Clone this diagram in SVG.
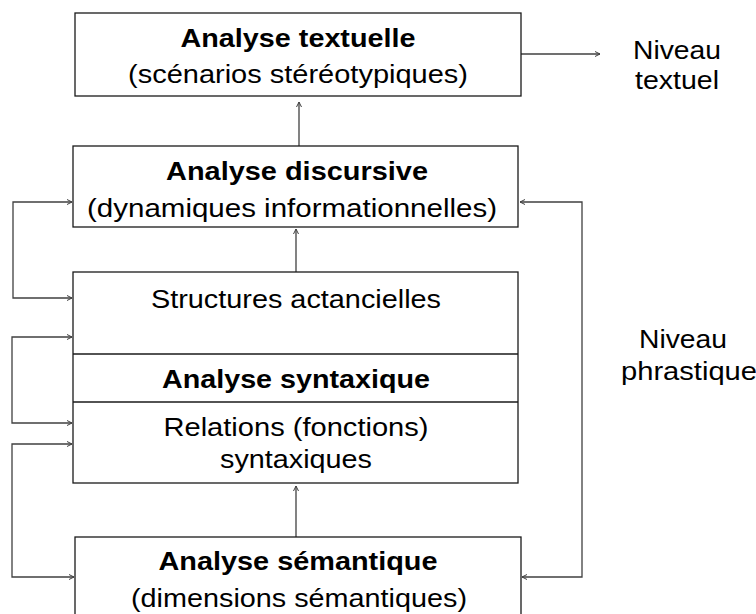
<svg xmlns="http://www.w3.org/2000/svg" width="756" height="614" viewBox="0 0 756 614">
<style>
.box{fill:#fff;stroke:#1a1a1a;stroke-width:1.3}
.div{stroke:#1a1a1a;stroke-width:1.3}
.t{font-family:"Liberation Sans",Arial,sans-serif;font-size:25px;fill:#000;text-anchor:middle}
.b{font-weight:bold}
.c{fill:none;stroke:#404040;stroke-width:1.3}
</style>
<defs>
<marker id="ah" markerWidth="8" markerHeight="8" refX="6" refY="3" orient="auto-start-reverse" markerUnits="userSpaceOnUse">
<path d="M1,0.5 L6,3 L1,5.5" fill="none" stroke="#404040" stroke-width="1"/>
</marker>
</defs>
<rect width="756" height="614" fill="#fff"/>
<g id="connectors">
<path class="c" d="M521,54 H600" marker-end="url(#ah)"/>
<path class="c" d="M299,146 V102" marker-end="url(#ah)"/>
<path class="c" d="M296,272 V229" marker-end="url(#ah)"/>
<path class="c" d="M296,537 V486" marker-end="url(#ah)"/>
<path class="c" d="M72,202 H13 V298 H72" marker-start="url(#ah)" marker-end="url(#ah)"/>
<path class="c" d="M72,337 H12 V423 H72" marker-start="url(#ah)" marker-end="url(#ah)"/>
<path class="c" d="M72,444 H12 V577 H74" marker-start="url(#ah)" marker-end="url(#ah)"/>
<path class="c" d="M520,202 H582 V577 H522" marker-start="url(#ah)" marker-end="url(#ah)"/>
</g>
<g id="textuelle">
<rect class="box" x="75" y="13" width="446" height="83"/>
<text class="t b" x="298" y="47" textLength="235" lengthAdjust="spacingAndGlyphs">Analyse textuelle</text>
<text class="t" x="298" y="83" textLength="340" lengthAdjust="spacingAndGlyphs">(scénarios stéréotypiques)</text>
</g>
<g id="discursive">
<rect class="box" x="73" y="146" width="445" height="81"/>
<text class="t b" x="297" y="180" textLength="262" lengthAdjust="spacingAndGlyphs">Analyse discursive</text>
<text class="t" x="292" y="217" textLength="410" lengthAdjust="spacingAndGlyphs">(dynamiques informationnelles)</text>
</g>
<g id="syntaxique">
<rect class="box" x="73" y="272" width="445" height="211"/>
<line class="div" x1="73" y1="354" x2="518" y2="354"/>
<line class="div" x1="73" y1="402" x2="518" y2="402"/>
<text class="t" x="296" y="308" textLength="290" lengthAdjust="spacingAndGlyphs">Structures actancielles</text>
<text class="t b" x="296" y="388" textLength="268" lengthAdjust="spacingAndGlyphs">Analyse syntaxique</text>
<text class="t" x="296" y="436" textLength="265" lengthAdjust="spacingAndGlyphs">Relations (fonctions)</text>
<text class="t" x="296" y="468" textLength="152" lengthAdjust="spacingAndGlyphs">syntaxiques</text>
</g>
<g id="semantique">
<rect class="box" x="75" y="537" width="446" height="90"/>
<text class="t b" x="298" y="570" textLength="279" lengthAdjust="spacingAndGlyphs">Analyse sémantique</text>
<text class="t" x="299" y="607" textLength="336" lengthAdjust="spacingAndGlyphs">(dimensions sémantiques)</text>
</g>
<g id="niveau-textuel">
<text class="t" x="677" y="59" textLength="88" lengthAdjust="spacingAndGlyphs">Niveau</text>
<text class="t" x="677" y="89" textLength="84" lengthAdjust="spacingAndGlyphs">textuel</text>
</g>
<g id="niveau-phrastique">
<text class="t" x="683" y="348" textLength="88" lengthAdjust="spacingAndGlyphs">Niveau</text>
<text class="t" x="689" y="380" textLength="136" lengthAdjust="spacingAndGlyphs">phrastique</text>
</g>
</svg>
